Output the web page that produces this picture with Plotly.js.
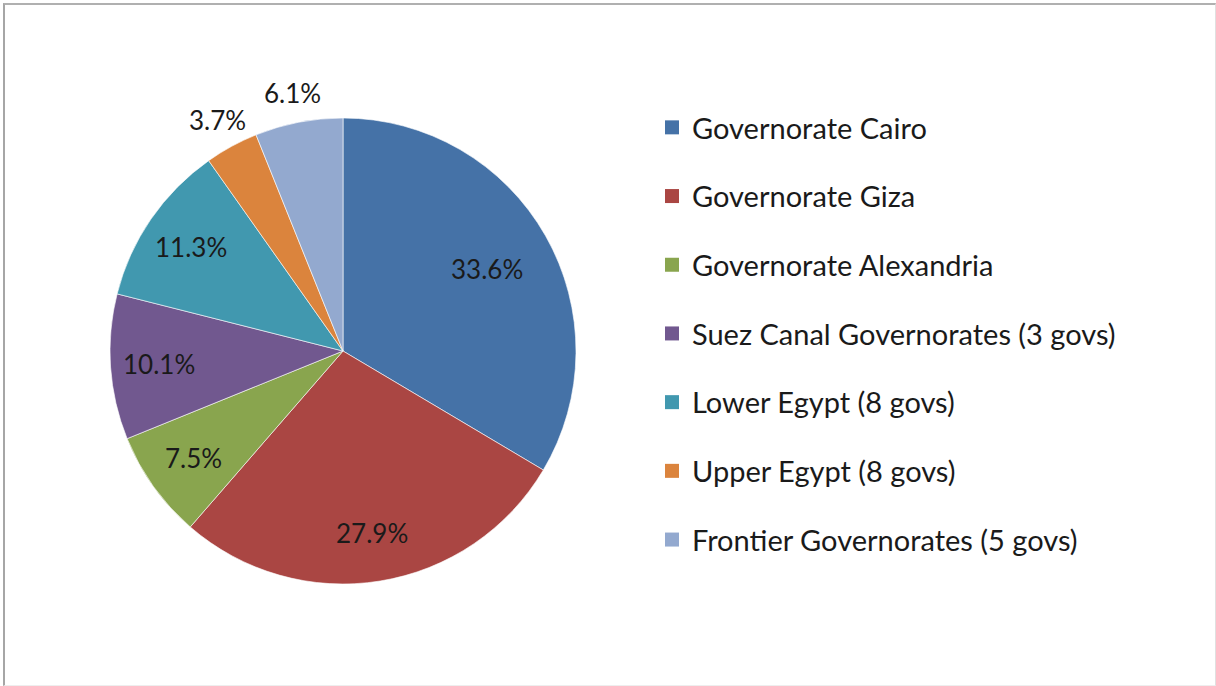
<!DOCTYPE html>
<html>
<head>
<meta charset="utf-8">
<script src="https://cdn.plot.ly/plotly-3.0.1.min.js"></script>
<style>
html,body{margin:0;padding:0;background:#fff;}
#frame{position:absolute;left:0;top:0;width:1213px;height:683px;box-sizing:border-box;border-left:2px solid #a6a6a6;border-top:2px solid #b0b0b0;border-right:1px solid #e0e0e0;border-bottom:1px solid #eeeeee;margin-left:3px;margin-top:3px;pointer-events:none;}
#chart{position:absolute;left:0;top:0;width:1216px;height:686px;}
</style>
</head>
<body>
<div id="chart"></div>
<div id="frame"></div>
<script>
const categories = [
  "Governorate Cairo",
  "Governorate Giza",
  "Governorate Alexandria",
  "Suez Canal Governorates (3 govs)",
  "Lower Egypt (8 govs)",
  "Upper Egypt (8 govs)",
  "Frontier Governorates (5 govs)"
];
const shares = [33.6, 27.9, 7.5, 10.1, 11.3, 3.7, 6.1];
const colors = ["#4572A7", "#AA4643", "#89A54E", "#71588F", "#4198AF", "#DB843D", "#93A9CF"];
const labelPlacement = ["inside", "inside", "inside", "inside", "inside", "outside", "outside"];

const FONT = "Lato, Open Sans, sans-serif";
const W = 1216, H = 686;

// pie domain (paper fractions)
const dom = {x: [(343-233)/W, (343+233)/W], y: [(686-584)/H, (686-118)/H]};

const pie = {
  type: "pie",
  labels: categories,
  values: shares,
  sort: false,
  direction: "clockwise",
  rotation: 0,
  marker: {colors: colors, line: {color: "rgba(255,255,255,0.6)", width: 1}},
  textinfo: "none",
  showlegend: false,
  hoverinfo: "label+value",
  domain: dom
};

// data labels placed along each slice's mid-angle (derived from the values)
const total = shares.reduce((a, b) => a + b, 0);
const cxPx = (dom.x[0] + dom.x[1]) / 2 * W;
const cyPx = (dom.y[0] + dom.y[1]) / 2 * H;
const Rpx = Math.min((dom.x[1]-dom.x[0]) * W, (dom.y[1]-dom.y[0]) * H) / 2;
let cum = 0;
const annotations = shares.map((v, i) => {
  const mid = (cum + v / 2) / total * 2 * Math.PI;
  cum += v;
  const f = labelPlacement[i] === "inside" ? (i === 0 ? 0.71 : 0.79) : 1.13;
  return {
    xref: "paper", yref: "paper",
    x: (cxPx + f * Rpx * Math.sin(mid)) / W,
    y: (cyPx + f * Rpx * Math.cos(mid)) / H,
    text: v.toFixed(1) + "%",
    showarrow: false,
    xanchor: "center", yanchor: "middle",
    font: {family: FONT, size: 26, color: "#1a1a1a"}
  };
});

const legendTraces = categories.map((c, i) => ({
  type: "scatter",
  mode: "markers",
  x: [null], y: [null],
  name: c,
  legendgroup: "g" + i,
  marker: {symbol: "square", size: 14, color: colors[i]},
  showlegend: true,
  hoverinfo: "skip"
}));

const layout = {
  width: W, height: H,
  margin: {l: 0, r: 0, t: 0, b: 0},
  paper_bgcolor: "#ffffff",
  plot_bgcolor: "rgba(0,0,0,0)",
  xaxis: {visible: false, domain: [0.9, 1]},
  yaxis: {visible: false, domain: [0.9, 1]},
  showlegend: true,
  legend: {
    x: 652 / W, y: 1 - 102 / H, xanchor: "left", yanchor: "top",
    font: {family: FONT, size: 29, color: "#1a1a1a"},
    tracegroupgap: 28,
    itemwidth: 30,
    bgcolor: "rgba(0,0,0,0)"
  },
  annotations: annotations,
  font: {family: FONT}
};

Plotly.newPlot("chart", [pie].concat(legendTraces), layout, {displayModeBar: false, staticPlot: true});
</script>
</body>
</html>
